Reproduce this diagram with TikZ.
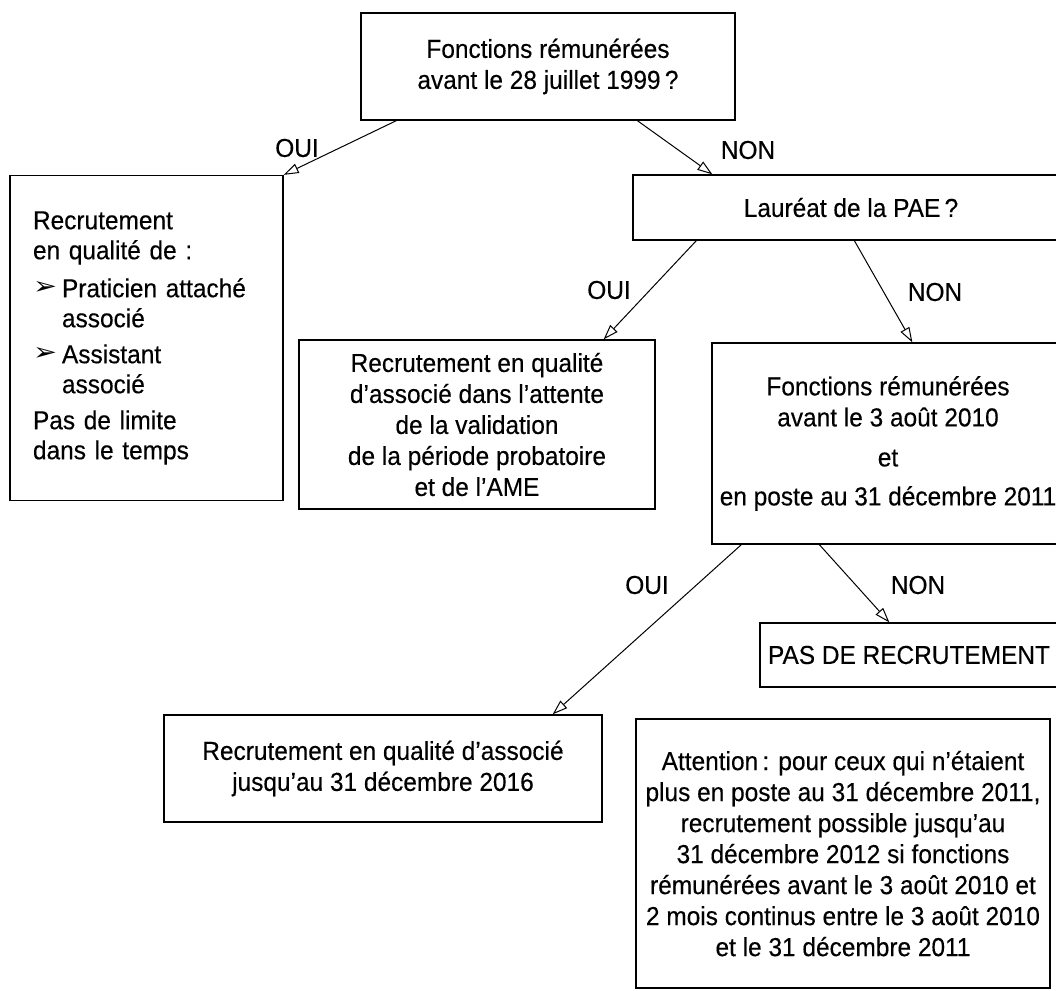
\documentclass[tikz,border=0pt]{standalone}
\usepackage{fontspec}
\setmainfont{Liberation Sans}[FakeStretch=0.94, FakeBold=0.3]
\newfontfamily\dejavu{DejaVu Sans}
\usetikzlibrary{arrows.meta}
\newcommand{\bul}{\makebox[29pt][l]{\raisebox{3pt}{\resizebox{24pt}{13pt}{\dejavu ➢}}}}
\begin{document}
\begin{tikzpicture}[x=1pt,y=-1pt,
  box/.style={draw, line width=1.3pt, rectangle, inner sep=0pt, align=center,
    font=\fontsize{26}{31}\selectfont},
  arr/.style={line width=1pt, -{Triangle[open,length=15pt,width=10pt,line width=1pt]}},
  lab/.style={font=\fontsize{26}{28}\selectfont, inner sep=0pt}]
\clip (0,0) rectangle (1056,990);
\fill[white] (0,0) rectangle (1056,990);

% boxes
\node[box, minimum width=374pt, minimum height=107pt] (b1) at (548,66.5)
  {Fonctions rémunérées\\avant le 28 juillet 1999\,?};
\node[box, minimum height=325pt, text width=227pt, inner xsep=23pt, align=left,
  font=\fontsize{26}{30}\selectfont] (bL) at (146.5,338)
  {Recrutement\\en qualité de :\\[8pt]
   \bul Praticien attaché\\\hspace*{29pt}associé\\[6pt]
   \bul Assistant\\\hspace*{29pt}associé\\[6pt]
   Pas de limite\\dans le temps};
\node[box, minimum width=436pt, minimum height=65pt] (bF) at (851,207.5)
  {Lauréat de la PAE\,?};
\node[box, minimum width=356pt, minimum height=169pt] (b3) at (477,424.5)
  {Recrutement en qualité\\d’associé dans l’attente\\de la validation\\de la période probatoire\\et de l’AME};
\node[box, minimum width=352pt, minimum height=201pt] (b4) at (888,443.5)
  {Fonctions rémunérées\\avant le 3 août 2010\\[9pt]et\\[8pt]en poste au 31 décembre 2011};
\node[box, minimum width=298pt, minimum height=64pt] (bP) at (909,655)
  {PAS DE RECRUTEMENT};
\node[box, minimum width=438pt, minimum height=107pt] (b5) at (383,768.5)
  {Recrutement en qualité d’associé\\jusqu’au 31 décembre 2016};
\node[box, minimum width=414pt, minimum height=269pt, text depth=0pt] (bA) at (843,853.5)
  {Attention\,: pour ceux qui n’étaient\\plus en poste au 31 décembre 2011,\\recrutement possible jusqu’au\\31 décembre 2012 si fonctions\\rémunérées avant le 3 août 2010 et\\2 mois continus entre le 3 août 2010\\et le 31 décembre 2011};

% connectors
\draw[arr] ([xshift=36pt]b1.south west) -- (bL.north east);
\draw[arr] ([xshift=277pt]b1.south west) -- ([xshift=80pt]bF.north west);
\draw[arr] ([xshift=64pt]bF.south west) -- ([xshift=-52pt]b3.north east);
\draw[arr] ([xshift=222pt]bF.south west) -- ([xshift=201pt]b4.north west);
\draw[arr] ([xshift=30pt]b4.south west) -- ([xshift=-50pt]b5.north east);
\draw[arr] ([xshift=108pt]b4.south west) -- ([xshift=130pt]bP.north west);

% labels
\node[lab] (l1) at (297,148) {OUI};
\node[lab] (l2) at (748,150) {NON};
\node[lab] (l3) at (609,290) {OUI};
\node[lab] (l4) at (935,292) {NON};
\node[lab] (l5) at (647,585) {OUI};
\node[lab] (l6) at (918,585) {NON};
\end{tikzpicture}
\end{document}
